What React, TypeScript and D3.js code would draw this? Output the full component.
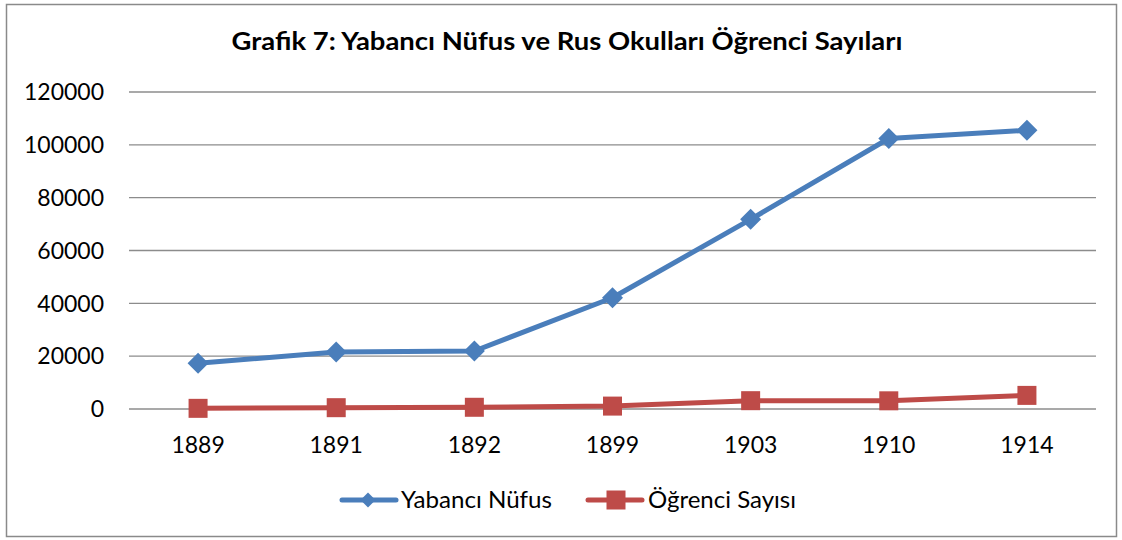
import React from "react";
import * as d3 from "d3";

const years = ["1889", "1891", "1892", "1899", "1903", "1910", "1914"];
const yabanciNufus = [17300, 21600, 21950, 42100, 71800, 102400, 105500];
const ogrenciSayisi = [250, 500, 650, 1100, 3150, 3100, 5150];
const yTicks = [0, 20000, 40000, 60000, 80000, 100000, 120000];
const seriesNames = ["Yabancı Nüfus", "Öğrenci Sayısı"];
const title = "Grafik 7: Yabancı Nüfus ve Rus Okulları Öğrenci Sayıları";

const W = 1122;
const H = 540;
const FONT = "Lato, 'Open Sans', sans-serif";
const BLUE = "#4A7EBB";
const RED = "#BE4B48";

export default function App() {
  const x = d3.scaleBand<string>().domain(years).range([129, 1096]).padding(0);
  const y = d3.scaleLinear().domain([0, 120000]).range([409, 92]);
  const cx = (d: string) => (x(d) as number) + x.bandwidth() / 2;

  const line = d3
    .line<number>()
    .x((_, i) => cx(years[i]))
    .y((v) => y(v));

  const diamond = (px: number, py: number, r: number) =>
    `M${px},${py - r}L${px + r},${py}L${px},${py + r}L${px - r},${py}Z`;

  return (
    <>
      <style>{`body{margin:0;}`}</style>
      <svg width={W} height={H} style={{ display: "block", fontFamily: FONT }}>
        <rect x={0} y={0} width={W} height={H} fill="#fff" />
        <rect x={6.5} y={4.5} width={1110} height={532} fill="#fff" stroke="#8a8a8a" strokeWidth={1.5} />
        <text
          x={567}
          y={50}
          textAnchor="middle"
          fontSize={25}
          fontWeight={700}
          fill="#000"
          textLength={671}
          lengthAdjust="spacingAndGlyphs"
        >
          {title}
        </text>
        {yTicks.map((t) => (
          <g key={t}>
            <line x1={129} x2={1096} y1={y(t)} y2={y(t)} stroke="#8c8c8c" strokeWidth={1.4} />
            <text x={104} y={y(t)} dy="0.36em" textAnchor="end" fontSize={23} fill="#000">
              {t}
            </text>
          </g>
        ))}
        {years.map((yr) => (
          <text key={yr} x={cx(yr)} y={453} textAnchor="middle" fontSize={23} fill="#000">
            {yr}
          </text>
        ))}
        <path d={line(yabanciNufus) as string} fill="none" stroke={BLUE} strokeWidth={5} strokeLinejoin="round" />
        <path d={line(ogrenciSayisi) as string} fill="none" stroke={RED} strokeWidth={5} strokeLinejoin="round" />
        {yabanciNufus.map((v, i) => (
          <path key={"b" + i} d={diamond(cx(years[i]), y(v), 10.5)} fill={BLUE} />
        ))}
        {ogrenciSayisi.map((v, i) => (
          <rect key={"r" + i} x={cx(years[i]) - 9.5} y={y(v) - 9.5} width={19} height={19} fill={RED} />
        ))}
        {/* legend */}
        <line x1={342} x2={396} y1={500} y2={500} stroke={BLUE} strokeWidth={5} strokeLinecap="round" />
        <path d={diamond(368, 500, 7.5)} fill={BLUE} />
        <text x={401} y={500} dy="0.36em" fontSize={23} fill="#000" textLength={151} lengthAdjust="spacingAndGlyphs">
          {seriesNames[0]}
        </text>
        <line x1={588} x2={642} y1={500} y2={500} stroke={RED} strokeWidth={5} strokeLinecap="round" />
        <rect x={606.5} y={490.5} width={19} height={19} fill={RED} />
        <text x={648} y={500} dy="0.36em" fontSize={23} fill="#000" textLength={148} lengthAdjust="spacingAndGlyphs">
          {seriesNames[1]}
        </text>
      </svg>
    </>
  );
}
